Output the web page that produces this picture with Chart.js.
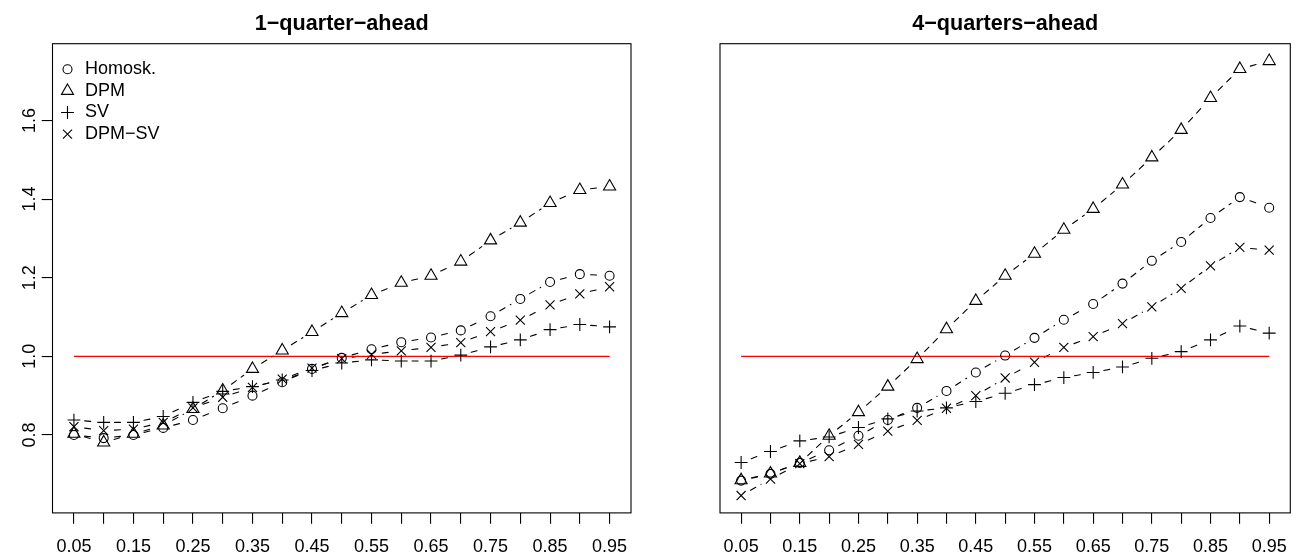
<!DOCTYPE html>
<html>
<head>
<meta charset="utf-8">
<script src="https://cdn.jsdelivr.net/npm/chart.js@4.4.1/dist/chart.umd.min.js"></script>
<style>
  body { margin: 0; background: #fff; }
  .panel { position: absolute; top: 0; width: 650px; height: 555px; }
</style>
</head>
<body>
<div class="panel" style="left:0"><canvas id="chart1" width="650" height="555"></canvas></div>
<div class="panel" style="left:650px"><canvas id="chart2" width="650" height="555"></canvas></div>
<script>
const quantiles = [0.05, 0.10, 0.15, 0.20, 0.25, 0.30, 0.35, 0.40, 0.45, 0.50,
                   0.55, 0.60, 0.65, 0.70, 0.75, 0.80, 0.85, 0.90, 0.95];
const xTickLabels = ['0.05', '0.15', '0.25', '0.35', '0.45', '0.55', '0.65', '0.75', '0.85', '0.95'];
const yTicks = [0.8, 1.0, 1.2, 1.4, 1.6];
const yTickLabels = ['0.8', '1.0', '1.2', '1.4', '1.6'];
const seriesNames = ['Homosk.', 'DPM', 'SV', 'DPM\u2212SV'];
const refLine = [1, 1];

// 1-quarter-ahead
const homosk1 = [0.800, 0.792, 0.800, 0.818, 0.838, 0.868, 0.900, 0.934, 0.968, 0.996, 1.018, 1.036, 1.048, 1.066, 1.102, 1.146, 1.189, 1.209, 1.205];
const dpm1    = [0.803, 0.781, 0.803, 0.824, 0.866, 0.913, 0.968, 1.015, 1.062, 1.110, 1.156, 1.187, 1.205, 1.241, 1.295, 1.340, 1.390, 1.423, 1.432];
const sv1     = [0.838, 0.832, 0.832, 0.847, 0.883, 0.911, 0.923, 0.940, 0.964, 0.983, 0.991, 0.988, 0.988, 1.003, 1.024, 1.042, 1.068, 1.081, 1.075];
const dpmsv1  = [0.821, 0.811, 0.815, 0.832, 0.869, 0.896, 0.921, 0.942, 0.970, 0.994, 1.005, 1.014, 1.023, 1.035, 1.063, 1.092, 1.131, 1.159, 1.177];

// 4-quarters-ahead
const homosk4 = [0.684, 0.701, 0.729, 0.761, 0.798, 0.838, 0.869, 0.912, 0.959, 1.002, 1.047, 1.093, 1.133, 1.185, 1.243, 1.291, 1.352, 1.405, 1.378];
const dpm4    = [0.685, 0.702, 0.729, 0.798, 0.858, 0.923, 0.993, 1.069, 1.141, 1.205, 1.261, 1.322, 1.375, 1.437, 1.506, 1.576, 1.657, 1.731, 1.751];
const sv4     = [0.730, 0.758, 0.785, 0.795, 0.819, 0.841, 0.861, 0.869, 0.885, 0.906, 0.928, 0.946, 0.959, 0.973, 0.995, 1.012, 1.042, 1.077, 1.059];
const dpmsv4  = [0.646, 0.688, 0.727, 0.745, 0.776, 0.810, 0.837, 0.868, 0.900, 0.945, 0.985, 1.023, 1.050, 1.083, 1.126, 1.173, 1.230, 1.277, 1.270];

const FONT = '"Liberation Sans", Arial, Helvetica, sans-serif';
const GAP = 10.8;   // type="b": lines stop this far from each point
const LW = 1.1;

Chart.defaults.font.family = FONT;
Chart.defaults.color = '#000';

const markStyle = [
  { pointStyle: 'circle',   pointRadius: 4.5 },
  { pointStyle: 'triangle', pointRadius: 7.0 },
  { pointStyle: 'cross',    pointRadius: 6.4 },
  { pointStyle: 'crossRot', pointRadius: 6.4 }
];

// shared ranges like R's default 4% extension
const allVals = [].concat(homosk1, dpm1, sv1, dpmsv1, homosk4, dpm4, sv4, dpmsv4);
const yLo = Math.min(...allVals), yHi = Math.max(...allVals);
const xLo = quantiles[0], xHi = quantiles[quantiles.length - 1];

function pts(ys) { return quantiles.map((q, i) => ({ x: q, y: ys[i] })); }

function drawMark(ctx, style, r, x, y) {
  ctx.beginPath();
  if (style === 'circle') {
    ctx.arc(x, y, r, 0, Math.PI * 2);
  } else if (style === 'triangle') {
    for (let k = 0; k < 3; k++) {
      const a = k * 2 * Math.PI / 3;
      const px = x + Math.sin(a) * r, py = y - Math.cos(a) * r;
      if (k === 0) ctx.moveTo(px, py); else ctx.lineTo(px, py);
    }
    ctx.closePath();
  } else if (style === 'cross') {
    ctx.moveTo(x - r, y); ctx.lineTo(x + r, y);
    ctx.moveTo(x, y - r); ctx.lineTo(x, y + r);
  } else {
    const d = r * Math.SQRT1_2;
    ctx.moveTo(x - d, y - d); ctx.lineTo(x + d, y + d);
    ctx.moveTo(x - d, y + d); ctx.lineTo(x + d, y - d);
  }
  ctx.stroke();
}

const decor = {
  id: 'decor',
  beforeDatasetsDraw(chart) {
    const ctx = chart.ctx;
    ctx.save();
    ctx.strokeStyle = '#000';
    ctx.lineWidth = LW;
    ctx.lineCap = 'round';
    ctx.setLineDash([6, 6]);
    chart.data.datasets.forEach((ds, i) => {
      if (!ds.gapLine) return;
      const p = chart.getDatasetMeta(i).data;
      for (let k = 1; k < p.length; k++) {
        const dx = p[k].x - p[k - 1].x, dy = p[k].y - p[k - 1].y;
        const len = Math.hypot(dx, dy);
        if (len <= 2 * GAP) continue;
        const ux = dx / len, uy = dy / len;
        ctx.beginPath();
        ctx.moveTo(p[k - 1].x + ux * GAP, p[k - 1].y + uy * GAP);
        ctx.lineTo(p[k].x - ux * GAP, p[k].y - uy * GAP);
        ctx.stroke();
      }
    });
    ctx.restore();
  },
  afterDraw(chart, args, opts) {
    const ctx = chart.ctx, a = chart.chartArea;
    ctx.save();
    ctx.strokeStyle = '#000';
    ctx.fillStyle = '#000';
    ctx.lineWidth = LW;
    ctx.strokeRect(a.left, a.top, a.right - a.left, a.bottom - a.top);

    ctx.font = 'bold 21.6px ' + FONT;
    ctx.textAlign = 'center';
    ctx.textBaseline = 'alphabetic';
    ctx.fillText(opts.title, (a.left + a.right) / 2, 29.5);

    ctx.font = '18px ' + FONT;
    if (opts.yLabels) {
      const ys = chart.scales.y;
      yTicks.forEach((v, i) => {
        ctx.save();
        ctx.translate(34.5, ys.getPixelForValue(v));
        ctx.rotate(-Math.PI / 2);
        ctx.fillText(yTickLabels[i], 0, 0);
        ctx.restore();
      });
    }
    if (opts.legend) {
      ctx.textAlign = 'left';
      ctx.textBaseline = 'middle';
      seriesNames.forEach((name, i) => {
        const y = a.top + 25.6 + i * 21.6;
        drawMark(ctx, markStyle[i].pointStyle, markStyle[i].pointRadius, a.left + 15, y);
        ctx.fillText(name, a.left + 32.5, y);
      });
    }
    ctx.restore();
  }
};

function makeChart(id, title, series, firstPanel) {
  const datasets = series.map((ys, i) => ({
    label: seriesNames[i],
    data: pts(ys),
    gapLine: true,
    showLine: false,
    pointStyle: markStyle[i].pointStyle,
    pointRadius: markStyle[i].pointRadius,
    pointHoverRadius: markStyle[i].pointRadius,
    pointBorderColor: '#000',
    pointBackgroundColor: 'rgba(0,0,0,0)',
    pointBorderWidth: LW
  }));
  datasets.push({
    label: 'ref',
    type: 'line',
    data: [{ x: xLo, y: refLine[0] }, { x: xHi, y: refLine[1] }],
    showLine: true,
    borderColor: '#ff0000',
    borderWidth: LW,
    pointRadius: 0
  });

  return new Chart(document.getElementById(id).getContext('2d'), {
    type: 'scatter',
    data: { datasets: datasets },
    plugins: [decor],
    options: {
      responsive: false,
      animation: false,
      events: [],
      layout: { padding: { top: 43.7, right: firstPanel ? 19 : 1.5, left: 0, bottom: 0 } },
      plugins: {
        legend: { display: false },
        tooltip: { enabled: false },
        decor: { title: title, legend: firstPanel, yLabels: firstPanel }
      },
      scales: {
        x: {
          type: 'linear',
          min: xLo - 0.04 * (xHi - xLo),
          max: xHi + 0.04 * (xHi - xLo),
          afterBuildTicks: s => { s.ticks = quantiles.map(v => ({ value: v })); },
          afterFit: s => { s.height = 42.1; },
          grid: { drawOnChartArea: false, tickLength: 10.8, color: '#000', lineWidth: LW },
          border: { display: false },
          ticks: {
            autoSkip: false, maxRotation: 0, minRotation: 0, padding: 13,
            color: '#000', font: { size: 18 },
            callback: v => { const s = Number(v).toFixed(2); return xTickLabels.includes(s) ? s : ''; }
          }
        },
        y: {
          type: 'linear',
          min: yLo - 0.04 * (yHi - yLo),
          max: yHi + 0.04 * (yHi - yLo),
          afterBuildTicks: s => { s.ticks = yTicks.map(v => ({ value: v })); },
          afterFit: s => { s.width = firstPanel ? 52.5 : 70; },
          grid: { display: firstPanel, drawOnChartArea: false, tickLength: 10.8, color: '#000', lineWidth: LW },
          border: { display: false },
          ticks: { display: false }
        }
      }
    }
  });
}

makeChart('chart1', '1\u2212quarter\u2212ahead', [homosk1, dpm1, sv1, dpmsv1], true);
makeChart('chart2', '4\u2212quarters\u2212ahead', [homosk4, dpm4, sv4, dpmsv4], false);
</script>
</body>
</html>
